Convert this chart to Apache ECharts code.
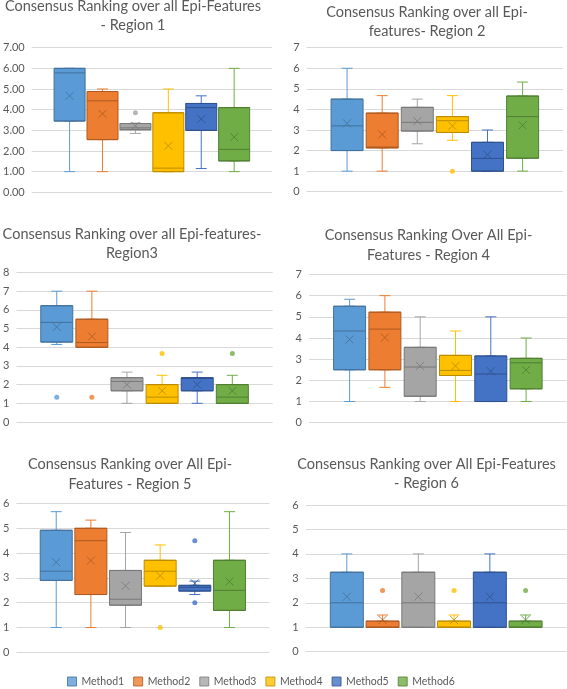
<!DOCTYPE html>
<html><head><meta charset="utf-8">
<script src="https://cdn.jsdelivr.net/npm/echarts@6/dist/echarts.min.js"></script>
<style>html,body{margin:0;padding:0;background:#fff}#c{width:567px;height:689px}</style>
</head><body><div id="c"></div><script>
// ---- data ----
const methods = ['Method1', 'Method2', 'Method3', 'Method4', 'Method5', 'Method6'];

const r1Title = 'Consensus Ranking over all Epi-Features\n- Region 1';
const r1Low  = [1.0, 1.0, 2.85, 1.0, 1.15, 1.0];
const r1Q1   = [3.45, 2.55, 3.03, 1.0, 3.0, 1.52];
const r1Med  = [5.78, 4.43, 3.12, 1.17, 4.1, 2.08];
const r1Q3   = [6.0, 4.88, 3.33, 3.85, 4.3, 4.1];
const r1High = [6.0, 5.0, 3.35, 5.0, 4.67, 6.0];
const r1Mean = [4.67, 3.8, 3.22, 2.25, 3.55, 2.67];
const r1Out  = [[2, 3.85]];

const r2Title = 'Consensus Ranking over all Epi-\nfeatures- Region 2';
const r2Low  = [1.0, 1.0, 2.33, 2.5, 1.0, 1.0];
const r2Q1   = [2.0, 2.13, 2.95, 2.88, 1.0, 1.63];
const r2Med  = [3.2, 2.17, 3.37, 3.45, 1.62, 3.65];
const r2Q3   = [4.5, 3.82, 4.1, 3.65, 2.4, 4.65];
const r2High = [6.0, 4.67, 4.5, 4.67, 3.0, 5.33];
const r2Mean = [3.32, 2.78, 3.43, 3.2, 1.8, 3.23];
const r2Out  = [[3, 1.0]];

const r3Title = 'Consensus Ranking over all Epi-features-\nRegion3';
const r3Low  = [4.15, 4.0, 1.0, 1.0, 1.0, 1.0];
const r3Q1   = [4.28, 4.0, 1.67, 1.0, 1.67, 1.0];
const r3Med  = [5.33, 4.25, 2.17, 1.33, 2.33, 1.33];
const r3Q3   = [6.22, 5.5, 2.37, 2.0, 2.37, 2.0];
const r3High = [7.0, 7.0, 2.67, 2.5, 2.67, 2.5];
const r3Mean = [5.08, 4.58, 2.0, 1.67, 2.0, 1.67];
const r3Out  = [[0, 1.33], [1, 1.33], [3, 3.67], [5, 3.67]];

const r4Title = 'Consensus Ranking Over All Epi-\nFeatures - Region 4';
const r4Low  = [1.0, 1.67, 1.0, 1.0, 1.0, 1.0];
const r4Q1   = [2.5, 2.5, 1.25, 2.23, 1.0, 1.6];
const r4Med  = [4.33, 4.42, 2.63, 2.47, 2.3, 2.83];
const r4Q3   = [5.5, 5.22, 3.56, 3.18, 3.15, 3.04];
const r4High = [5.83, 6.0, 5.0, 4.33, 5.0, 4.0];
const r4Mean = [3.93, 4.02, 2.68, 2.68, 2.43, 2.49];
const r4Out  = [];

const r5Title = 'Consensus Ranking over All Epi-\nFeatures - Region 5';
const r5Low  = [1.0, 1.0, 1.0, 2.67, 2.33, 1.0];
const r5Q1   = [2.9, 2.33, 1.9, 2.67, 2.47, 1.69];
const r5Med  = [3.27, 4.5, 2.14, 3.27, 2.62, 2.5];
const r5Q3   = [4.92, 5.0, 3.3, 3.71, 2.7, 3.71];
const r5High = [5.67, 5.33, 4.83, 4.33, 2.87, 5.67];
const r5Mean = [3.63, 3.7, 2.68, 3.09, 2.78, 2.85];
const r5Out  = [[3, 1.0], [4, 4.5], [4, 2.0]];

const r6Title = 'Consensus Ranking over All Epi-Features\n- Region 6';
const r6Low  = [1.0, 1.0, 1.0, 1.0, 1.0, 1.0];
const r6Q1   = [1.0, 1.0, 1.0, 1.0, 1.0, 1.0];
const r6Med  = [2.0, 1.0, 2.0, 1.0, 2.0, 1.0];
const r6Q3   = [3.25, 1.25, 3.25, 1.25, 3.25, 1.25];
const r6High = [4.0, 1.5, 4.0, 1.5, 4.0, 1.5];
const r6Mean = [2.25, 1.3, 2.25, 1.3, 2.25, 1.3];
const r6Out  = [[1, 2.5], [3, 2.5], [5, 2.5]];

const yMaxes = [7, 7, 8, 7, 6, 6];
const yDecimals = [2, 0, 0, 0, 0, 0];

// ---- styling / layout ----
const FONT = 'Lato';
const fill = ['#5B9BD5', '#ED7D31', '#A5A5A5', '#FFC000', '#4472C4', '#70AD47'];
const edge = ['#41719C', '#AE5A21', '#787878', '#BC8C00', '#2F528F', '#507E32'];
const layout = [
  { left: 25,    top: 47.7,  width: 247,   height: 144.6, tx: 133,   ty: -3.5, boxW: 31 },
  { left: 306.7, top: 47.7,  width: 256.3, height: 144,   tx: 427,   ty: 2.5,  boxW: 32 },
  { left: 12.7,  top: 272.5, width: 260,   height: 149.5, tx: 132,   ty: 224.5, boxW: 32 },
  { left: 309,   top: 274.5, width: 257.7, height: 148.2, tx: 428.5, ty: 226,  boxW: 32 },
  { left: 12.7,  top: 503.5, width: 256.6, height: 148.8, tx: 130,   ty: 455,  boxW: 32 },
  { left: 305.7, top: 505,   width: 261,   height: 146.7, tx: 426.5, ty: 454.5, boxW: 33 }
];

const regions = [
  { title: r1Title, low: r1Low, q1: r1Q1, med: r1Med, q3: r1Q3, high: r1High, mean: r1Mean, out: r1Out },
  { title: r2Title, low: r2Low, q1: r2Q1, med: r2Med, q3: r2Q3, high: r2High, mean: r2Mean, out: r2Out },
  { title: r3Title, low: r3Low, q1: r3Q1, med: r3Med, q3: r3Q3, high: r3High, mean: r3Mean, out: r3Out },
  { title: r4Title, low: r4Low, q1: r4Q1, med: r4Med, q3: r4Q3, high: r4High, mean: r4Mean, out: r4Out },
  { title: r5Title, low: r5Low, q1: r5Q1, med: r5Med, q3: r5Q3, high: r5High, mean: r5Mean, out: r5Out },
  { title: r6Title, low: r6Low, q1: r6Q1, med: r6Med, q3: r6Q3, high: r6High, mean: r6Mean, out: r6Out }
];

const titles = [], grids = [], xAxes = [], yAxes = [], series = [];

regions.forEach((r, p) => {
  const L = layout[p];
  titles.push({
    text: r.title, left: L.tx, top: L.ty, textAlign: 'center', padding: 0,
    textStyle: { fontFamily: FONT, fontSize: 14.5, fontWeight: 'normal', color: '#595959', lineHeight: 19.5 }
  });
  grids.push({ left: L.left, top: L.top, width: L.width, height: L.height });
  xAxes.push({ gridIndex: p, type: 'value', min: -0.15, max: 7.15, show: false });
  xAxes.push({ gridIndex: p, type: 'value', min: -0.15, max: 7.15, show: false });
  const dec = yDecimals[p];
  yAxes.push({
    gridIndex: p, type: 'value', min: 0, max: yMaxes[p], interval: 1,
    axisLine: { show: false }, axisTick: { show: false },
    splitLine: { lineStyle: { color: '#D9D9D9', width: 1 } },
    axisLabel: { color: '#595959', fontSize: 11, fontFamily: FONT, margin: 7,
      formatter: v => v.toFixed(dec) }
  });
  // whiskers (narrow caps)
  series.push({
    type: 'boxplot', xAxisIndex: 2 * p, yAxisIndex: p, boxWidth: [11, 11], silent: true, z: 2,
    emphasis: { disabled: true },
    data: r.low.map((lo, i) => ({
      value: [i + 1, lo, r.q1[i], r.med[i], r.q3[i], r.high[i]],
      itemStyle: { color: fill[i], borderColor: fill[i], borderWidth: 1 }
    }))
  });
  // boxes
  series.push({
    type: 'boxplot', xAxisIndex: 2 * p + 1, yAxisIndex: p, boxWidth: [L.boxW, L.boxW], silent: true, z: 3,
    emphasis: { disabled: true },
    data: r.q1.map((q, i) => ({
      value: [i + 1, q, q, r.med[i], r.q3[i], r.q3[i]],
      itemStyle: { color: fill[i], borderColor: edge[i], borderWidth: 1 }
    }))
  });
  // means
  series.push({
    type: 'scatter', xAxisIndex: 2 * p + 1, yAxisIndex: p, silent: true, z: 5,
    symbol: 'path://M0,0L10,10M10,0L0,10', symbolSize: 8,
    data: r.mean.map((m, i) => ({
      value: [i + 1, m],
      itemStyle: { color: 'rgba(0,0,0,0)', borderColor: edge[i], borderWidth: 1 }
    }))
  });
  // outliers
  series.push({
    type: 'scatter', xAxisIndex: 2 * p + 1, yAxisIndex: p, silent: true, z: 5,
    symbol: 'circle', symbolSize: 5,
    data: r.out.map(([i, v]) => ({ value: [i + 1, v], itemStyle: { color: fill[i] } }))
  });
});

// legend-only series
methods.forEach((m, i) => {
  series.push({ type: 'scatter', name: m, xAxisIndex: 0, yAxisIndex: 0, data: [], itemStyle: { color: fill[i] } });
});

const chart = echarts.init(document.getElementById('c'), null, { renderer: 'canvas' });
chart.setOption({
  animation: false,
  backgroundColor: '#ffffff',
  title: titles,
  grid: grids,
  xAxis: xAxes,
  yAxis: yAxes,
  legend: {
    left: 67, top: 676, padding: 0, icon: 'rect', itemWidth: 9, itemHeight: 9, itemGap: 9,
    textStyle: { color: '#595959', fontSize: 10.5, fontFamily: FONT },
    data: methods.map((m, i) => ({ name: m, itemStyle: { color: fill[i], borderColor: edge[i], borderWidth: 1 } }))
  },
  series: series
});
</script></body></html>
